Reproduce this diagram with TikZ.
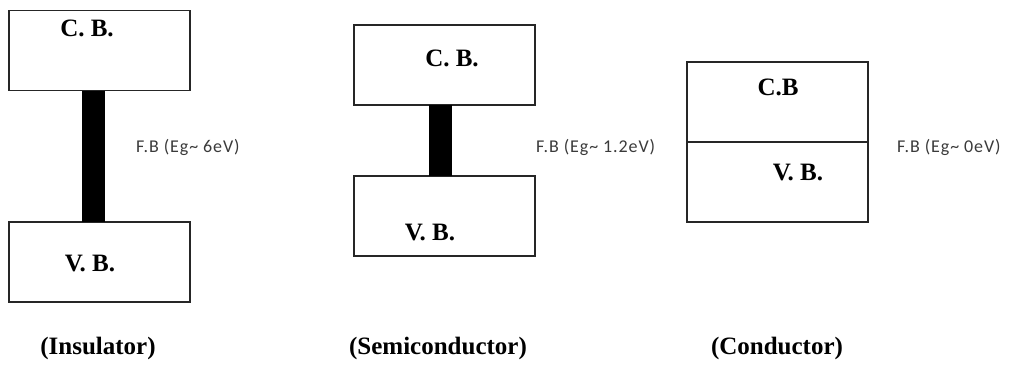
\documentclass[tikz,border=0pt]{standalone}
\usepackage{fontspec}
\setmainfont{Liberation Serif}
\newfontfamily\lblfont[LetterSpace=5]{Carlito}
\definecolor{lblgray}{HTML}{3A3A3A}
\begin{document}
\begin{tikzpicture}[x=1pt,y=-1pt,
  band/.style={draw=black!85, line width=1.6pt, fill=white, minimum width=181pt, inner sep=0pt, outer sep=0pt},
  gapbar/.style={line width=23pt, black},
  bold/.style={font=\fontsize{25}{28}\selectfont\bfseries, inner sep=0pt},
  fb/.style={font=\fontsize{18}{21}\lblfont, text=lblgray, inner sep=0pt, anchor=west}]
\useasboundingbox (0,0) rectangle (1011,368);
% Insulator
\node[band, minimum height=80pt] (cb1) at (99.5,50.5) {};
\node[band, minimum height=80pt] (vb1) at (99.5,262) {};
\draw[gapbar] ([xshift=-6pt]cb1.south) -- ([xshift=-6pt]vb1.north);
\node[bold] (cb1t) at (87,28) {C. B.};
\node[bold] (vb1t) at (90,263) {V. B.};
\node[fb] (fb1) at (136,147) {F.B (Eg\textasciitilde{} 6eV)};
\node[bold] (ins) at (98,348) {(Insulator)};
% Semiconductor
\node[band, minimum height=80pt] (cb2) at (444.5,65) {};
\node[band, minimum height=80pt] (vb2) at (444.5,216) {};
\draw[gapbar] ([xshift=-4.5pt]cb2.south) -- ([xshift=-4.5pt]vb2.north);
\node[bold] (cb2t) at (452,58) {C. B.};
\node[bold] (vb2t) at (430,232) {V. B.};
\node[fb] (fb2) at (536,147) {F.B (Eg\textasciitilde{} 1.2eV)};
\node[bold] (semi) at (438,348) {(Semiconductor)};
% Conductor
\node[band, minimum height=80pt] (cb3) at (777.5,102) {};
\node[band, minimum height=80pt] (vb3) at (777.5,182) {};
\node[bold] (cb3t) at (778,87) {C.B};
\node[bold] (vb3t) at (798,172) {V. B.};
\node[fb] (fb3) at (897,147) {F.B (Eg\textasciitilde{} 0eV)};
\node[bold] (cond) at (777,348) {(Conductor)};
\end{tikzpicture}
\end{document}
